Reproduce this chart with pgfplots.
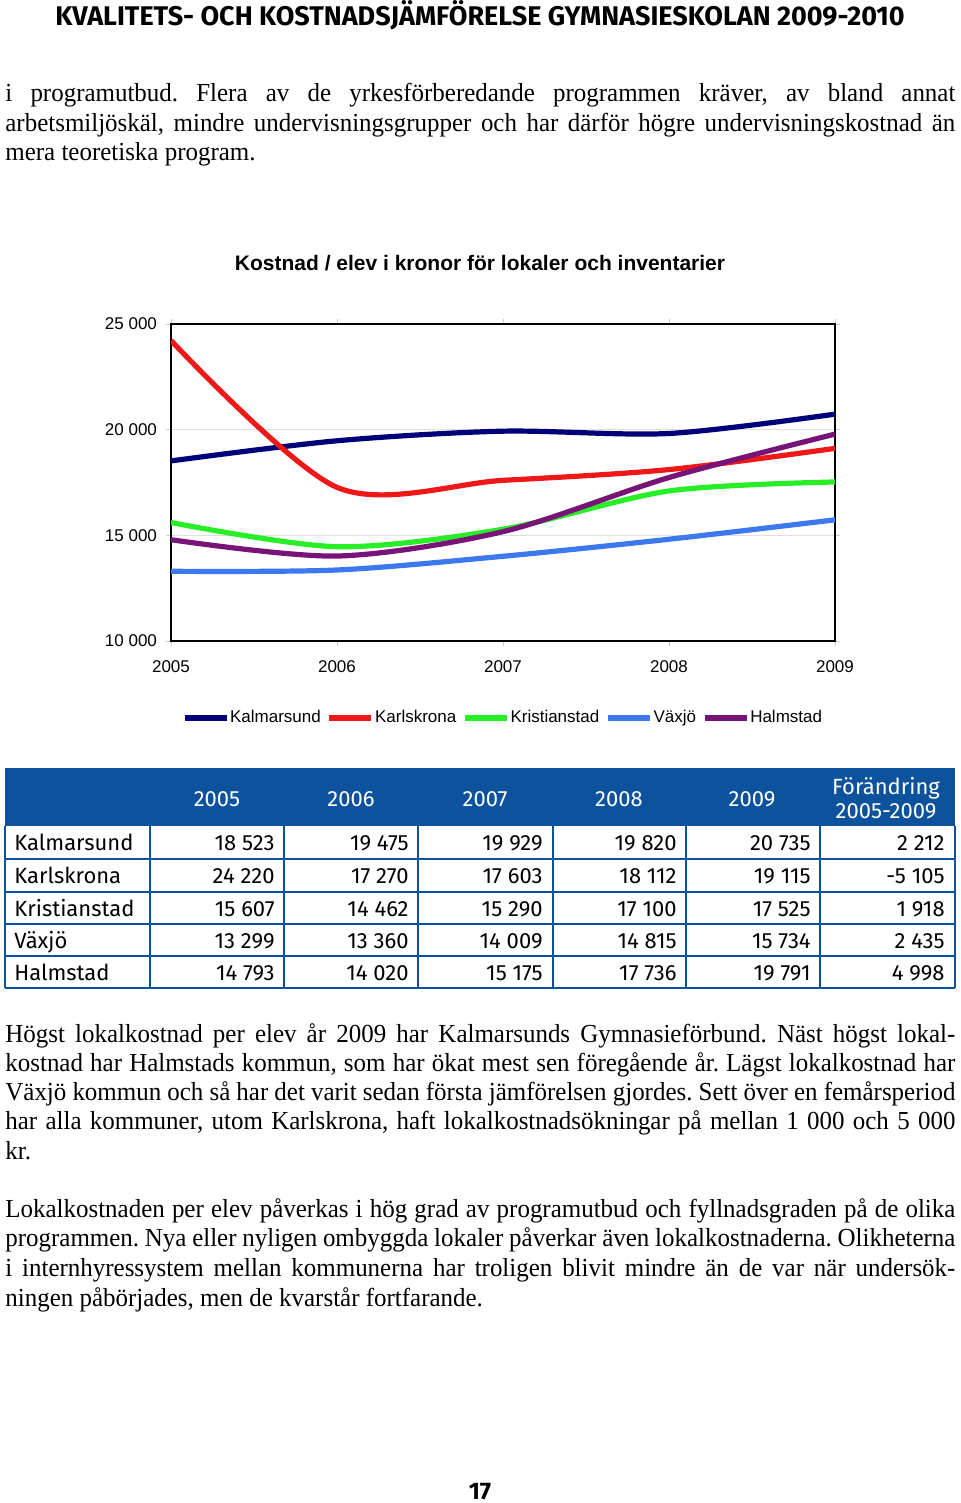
\documentclass[border=0pt]{standalone}
\usepackage{fontspec}
\usepackage{pgfplots}
\pgfplotsset{compat=1.18}
\setmainfont{Liberation Serif}
\newfontfamily\bodyfont[FakeStretch=0.96]{Liberation Serif}
\newfontfamily\chartfont{Liberation Sans}
\newfontfamily\tabfont{Fira Sans}

\definecolor{cKalmar}{RGB}{0,0,120}
\definecolor{cKarls}{RGB}{238,24,24}
\definecolor{cKrist}{RGB}{40,238,40}
\definecolor{cVaxjo}{RGB}{60,120,238}
\definecolor{cHalm}{RGB}{120,20,120}
\definecolor{tabblue}{RGB}{12,82,156}

% one justified line of body text, baseline at pixel y
\newcommand\jl[2]{\node[anchor=base west,inner sep=0pt] at (5,#1)
  {\hbox to 475pt{\bodyfont\fontsize{13}{15}\selectfont\frenchspacing #2}};}

\begin{document}
\begin{tikzpicture}
\useasboundingbox (0,0) rectangle (480pt,-751.5pt);

\begin{axis}[
    at={(85.5pt,-320.5pt)}, anchor=south west,
    width=332pt, height=158.5pt, scale only axis,
    xmin=2005, xmax=2009, ymin=10000, ymax=25000,
    scaled y ticks=false,
    xtick={2005,2006,2007,2008,2009},
    xticklabels={2005,2006,2007,2008,2009},
    ytick={10000,15000,20000,25000},
    yticklabels={10 000,15 000,20 000,25 000},
    ymajorgrids, grid style={gray!25, line width=0.6pt},
    axis line style={black, line width=1pt},
    tick align=outside, major tick length=2.5pt,
    tick style={gray!40, line width=0.5pt},
    ticklabel style={font=\chartfont\fontsize{8.5}{10}\selectfont},
    xticklabel style={yshift=-4pt},
    yticklabel style={xshift=-1pt},
    legend columns=5,
    legend style={at={(0.4985,-0.2426)}, anchor=center, draw=none, fill=none,
        font=\chartfont\fontsize{8.5}{10}\selectfont,
        nodes={inner xsep=0pt},
        /tikz/every odd column/.append style={column sep=0.5pt},
        /tikz/every even column/.append style={column sep=3pt}},
    legend cell align=left,
    legend image code/.code={\draw[#1, line width=2.6pt] (0pt,0pt) -- (21pt,0pt);},
    every axis plot/.append style={line width=2.6pt, smooth, no marks},
]
% Kalmarsund
\addplot[cKalmar] coordinates {(2005,18523) (2006,19475) (2007,19929) (2008,19820) (2009,20735)};
\addlegendentry{Kalmarsund}
% Karlskrona
\addplot[cKarls] coordinates {(2005,24220) (2006,17270) (2007,17603) (2008,18112) (2009,19115)};
\addlegendentry{Karlskrona}
% Kristianstad
\addplot[cKrist] coordinates {(2005,15607) (2006,14462) (2007,15290) (2008,17100) (2009,17525)};
\addlegendentry{Kristianstad}
% Växjö
\addplot[cVaxjo] coordinates {(2005,13299) (2006,13360) (2007,14009) (2008,14815) (2009,15734)};
\addlegendentry{Växjö}
% Halmstad
\addplot[cHalm] coordinates {(2005,14793) (2006,14020) (2007,15175) (2008,17736) (2009,19791)};
\addlegendentry{Halmstad}
\end{axis}

\begin{scope}[x=0.5pt, y=-0.5pt]
% page header
\node[anchor=base, inner sep=0pt] at (480,26)
  {\tabfont\bfseries\fontsize{13.5}{15}\selectfont KVALITETS- OCH KOSTNADSJÄMFÖRELSE GYMNASIESKOLAN 2009-2010};

% chart title
\node[anchor=center, inner sep=0pt] at (480,263)
  {\chartfont\bfseries\fontsize{10.5}{12}\selectfont Kostnad / elev i kronor för lokaler och inventarier};

% first paragraph
\jl{102}{i programutbud. Flera av de yrkesförberedande programmen kräver, av bland annat}
\jl{132}{arbetsmiljöskäl, mindre undervisningsgrupper och har därför högre undervisningskostnad än}
\jl{161}{mera teoretiska program.\hfil}

% table
\fill[tabblue] (5,768) rectangle (955,826);
\begin{scope}[tabblue, line width=1pt]
\foreach \y in {858.5,891.5,924,956,988} \draw (5,\y) -- (955,\y);
\foreach \x in {5,150,284,418,553,686,820,955} \draw (\x,826) -- (\x,988);
\end{scope}
\begin{scope}[every node/.style={inner sep=0pt, font=\tabfont\fontsize{11}{12}\selectfont}]
\foreach \x/\t in {217/2005,351/2006,485/2007,619/2008,752/2009}
  \node[white, anchor=base] at (\x,806) {\t};
\node[white, anchor=base] at (886,794) {Förändring};
\node[white, anchor=base] at (886,818) {2005-2009};
\foreach \y/\n/\a/\b/\c/\d/\e/\f in {
  842/Kalmarsund/18 523/19 475/19 929/19 820/20 735/2 212,
  875/Karlskrona/24 220/17 270/17 603/18 112/19 115/-5 105,
  908/Kristianstad/15 607/14 462/15 290/17 100/17 525/1 918,
  940/Växjö/13 299/13 360/14 009/14 815/15 734/2 435,
  972/Halmstad/14 793/14 020/15 175/17 736/19 791/4 998}{
  \node[anchor=base west] at (14,\y+8) {\n};
  \node[anchor=base east] at (275,\y+8) {\a};
  \node[anchor=base east] at (409,\y+8) {\b};
  \node[anchor=base east] at (543,\y+8) {\c};
  \node[anchor=base east] at (677,\y+8) {\d};
  \node[anchor=base east] at (811,\y+8) {\e};
  \node[anchor=base east] at (945,\y+8) {\f};
}
\end{scope}

% second paragraph
\jl{1042}{Högst lokalkostnad per elev år 2009 har Kalmarsunds Gymnasieförbund. Näst högst lokal-}
\jl{1071}{kostnad har Halmstads kommun, som har ökat mest sen föregående år. Lägst lokalkostnad har}
\jl{1100}{Växjö kommun och så har det varit sedan första jämförelsen gjordes. Sett över en femårsperiod}
\jl{1129}{har alla kommuner, utom Karlskrona, haft lokalkostnadsökningar på mellan 1 000 och 5 000}
\jl{1159}{kr.\hfil}

% third paragraph
\jl{1217}{Lokalkostnaden per elev påverkas i hög grad av programutbud och fyllnadsgraden på de olika}
\jl{1246}{programmen. Nya eller nyligen ombyggda lokaler påverkar även lokalkostnaderna. Olikheterna}
\jl{1276}{i internhyressystem mellan kommunerna har troligen blivit mindre än de var när undersök-}
\jl{1306}{ningen påbörjades, men de kvarstår fortfarande.\hfil}

% page number
\node[anchor=base, inner sep=0pt] at (480,1499)
  {\tabfont\bfseries\fontsize{12}{14}\selectfont 17};
\end{scope}
\end{tikzpicture}
\end{document}
